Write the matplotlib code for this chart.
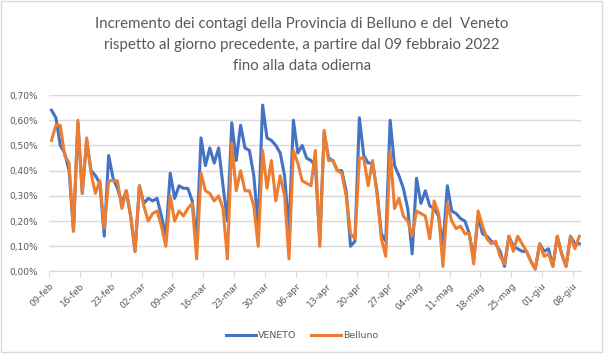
import numpy as np
import pandas as pd
import matplotlib
matplotlib.use("Agg")
import matplotlib.pyplot as plt
from matplotlib.patches import Rectangle
from matplotlib.ticker import FuncFormatter, FixedLocator

# daily increase (%), from 09-feb-2022 to 09-giu-2022
veneto = [0.64, 0.61, 0.50, 0.47, 0.40, 0.16, 0.59, 0.31, 0.52, 0.40,
          0.38, 0.35, 0.14, 0.46, 0.37, 0.33, 0.27, 0.32, 0.22, 0.08,
          0.34, 0.27, 0.29, 0.28, 0.29, 0.22, 0.14, 0.39, 0.29, 0.34,
          0.33, 0.33, 0.28, 0.12, 0.53, 0.42, 0.49, 0.43, 0.49, 0.34,
          0.20, 0.59, 0.44, 0.58, 0.49, 0.48, 0.38, 0.18, 0.66, 0.53,
          0.52, 0.50, 0.47, 0.38, 0.16, 0.60, 0.47, 0.50, 0.45, 0.44,
          0.42, 0.12, 0.55, 0.45, 0.44, 0.40, 0.40, 0.32, 0.10, 0.12,
          0.61, 0.46, 0.43, 0.43, 0.32, 0.15, 0.12, 0.60, 0.42, 0.38,
          0.33, 0.25, 0.07, 0.37, 0.27, 0.32, 0.26, 0.25, 0.22, 0.10,
          0.34, 0.24, 0.23, 0.21, 0.20, 0.15, 0.05, 0.22, 0.15, 0.14,
          0.12, 0.11, 0.08, 0.02, 0.14, 0.10, 0.09, 0.08, 0.08, 0.04,
          0.01, 0.11, 0.08, 0.09, 0.02, 0.14, 0.07, 0.02, 0.14, 0.11,
          0.11]
belluno = [0.52, 0.58, 0.58, 0.46, 0.43, 0.16, 0.60, 0.31, 0.53, 0.39,
           0.31, 0.36, 0.17, 0.36, 0.36, 0.36, 0.25, 0.32, 0.22, 0.08,
           0.34, 0.26, 0.20, 0.23, 0.24, 0.18, 0.10, 0.30, 0.20, 0.24,
           0.22, 0.25, 0.27, 0.05, 0.39, 0.32, 0.31, 0.28, 0.30, 0.25,
           0.05, 0.51, 0.32, 0.40, 0.32, 0.32, 0.26, 0.10, 0.48, 0.33,
           0.44, 0.28, 0.38, 0.30, 0.05, 0.48, 0.43, 0.36, 0.35, 0.34,
           0.48, 0.10, 0.56, 0.44, 0.44, 0.40, 0.39, 0.30, 0.15, 0.13,
           0.45, 0.45, 0.34, 0.44, 0.31, 0.13, 0.06, 0.48, 0.25, 0.29,
           0.22, 0.20, 0.14, 0.24, 0.23, 0.22, 0.13, 0.28, 0.23, 0.02,
           0.27, 0.20, 0.17, 0.18, 0.15, 0.15, 0.03, 0.24, 0.18, 0.13,
           0.11, 0.12, 0.06, 0.03, 0.14, 0.08, 0.14, 0.11, 0.08, 0.04,
           0.01, 0.11, 0.06, 0.07, 0.02, 0.14, 0.07, 0.02, 0.14, 0.09,
           0.14]
tick_labels = ["09-feb", "16-feb", "23-feb", "02-mar", "09-mar", "16-mar",
               "23-mar", "30-mar", "06-apr", "13-apr", "20-apr", "27-apr",
               "04-mag", "11-mag", "18-mag", "25-mag", "01-giu", "08-giu"]
y_ticks = [0.0, 0.1, 0.2, 0.3, 0.4, 0.5, 0.6, 0.7]

days = np.arange(len(veneto))
grey = "#595959"
grid_c = "#D9D9D9"

fig = plt.figure(figsize=(6.04, 3.56), dpi=100)
fig.patches.append(Rectangle((0.002, 0.01), 0.995, 0.986, transform=fig.transFigure,
                             fill=False, edgecolor=grid_c, linewidth=1))
ax = fig.add_axes([0.0816, 0.2374, 0.8811, 0.4957])

ax.plot(days, veneto, color="#4472C4", lw=2.2, label="VENETO", solid_joinstyle="round")
ax.plot(days, belluno, color="#ED7D31", lw=2.2, label="Belluno", solid_joinstyle="round")

ax.set_xlim(-0.5, len(days) - 0.5)
ax.set_ylim(0, 0.7)
ax.yaxis.set_major_locator(FixedLocator(y_ticks))
ax.yaxis.set_major_formatter(FuncFormatter(lambda v, p: f"{v:.2f}%".replace(".", ",")))
ax.set_xticks(np.arange(len(tick_labels)) * 7 - 0.5)
ax.set_xticklabels(tick_labels, rotation=45, ha="right", va="top", rotation_mode="anchor")
ax.grid(axis="y", color=grid_c, lw=1)
ax.set_axisbelow(True)
for s in ["top", "right", "left"]:
    ax.spines[s].set_visible(False)
ax.spines["bottom"].set_color(grid_c)
ax.tick_params(axis="y", length=0, pad=8, labelsize=6.5, labelcolor=grey)
ax.tick_params(axis="x", length=4, color=grid_c, pad=3, labelsize=6.5, labelcolor=grey)

fig.text(0.5, 0.952, "Incremento dei contagi della Provincia di Belluno e del  Veneto\n"
         "rispetto al giorno precedente, a partire dal 09 febbraio 2022\n"
         "fino alla data odierna", ha="center", va="top", fontsize=10.8,
         color=grey, family="Lato", linespacing=1.65)

fig.legend(loc="center", bbox_to_anchor=(0.5, 0.058), ncol=2, frameon=False,
           fontsize=6.8, labelcolor=grey, handlelength=3.2, handletextpad=0.2,
           columnspacing=1.5)

fig.savefig("out.png", dpi=100)
